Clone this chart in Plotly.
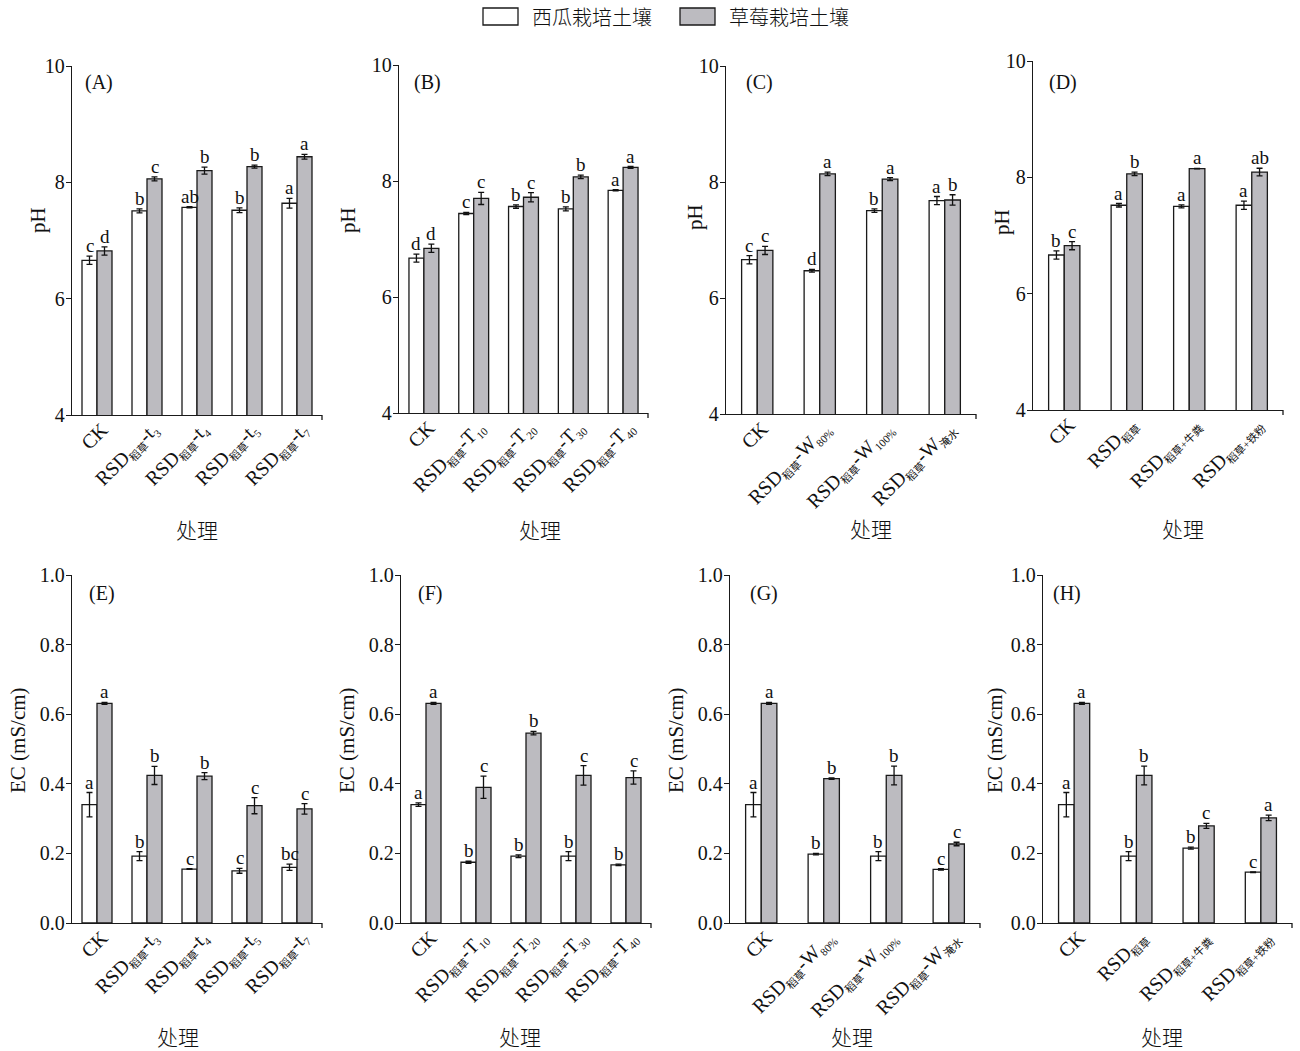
import plotly.graph_objects as go

W, H = 1300, 1051
SERIF = "Liberation Serif, Noto Sans CJK SC, serif"
CJK = "Noto Sans CJK SC, sans-serif"

series_names = ["西瓜栽培土壤", "草莓栽培土壤"]
fill_colors = ["#ffffff", "#bcbbc0"]


def sub(t):
    return f"<sub><span style='font-size:11px'>{t}</span></sub>"


# ---------------- categories / tick labels ----------------
cats_time = ["CK", "RSD稻草-t3", "RSD稻草-t4", "RSD稻草-t5", "RSD稻草-t7"]
ticks_time = ["CK", "RSD" + sub("稻草") + "-t" + sub("3"), "RSD" + sub("稻草") + "-t" + sub("4"),
              "RSD" + sub("稻草") + "-t" + sub("5"), "RSD" + sub("稻草") + "-t" + sub("7")]
cats_temp = ["CK", "RSD稻草-T10", "RSD稻草-T20", "RSD稻草-T30", "RSD稻草-T40"]
ticks_temp = ["CK", "RSD" + sub("稻草") + "-T" + sub("10"), "RSD" + sub("稻草") + "-T" + sub("20"),
              "RSD" + sub("稻草") + "-T" + sub("30"), "RSD" + sub("稻草") + "-T" + sub("40")]
cats_water = ["CK", "RSD稻草-W80%", "RSD稻草-W100%", "RSD稻草-W淹水"]
ticks_water = ["CK", "RSD" + sub("稻草") + "-W" + sub("80%"), "RSD" + sub("稻草") + "-W" + sub("100%"),
               "RSD" + sub("稻草") + "-W" + sub("淹水")]
cats_amend = ["CK", "RSD稻草", "RSD稻草+牛粪", "RSD稻草+铁粉"]
ticks_amend = ["CK", "RSD" + sub("稻草"), "RSD" + sub("稻草+牛粪"), "RSD" + sub("稻草+铁粉")]

# ---------------- pH data ----------------
ph_A_w = [6.66, 7.51, 7.57, 7.52, 7.64]
ph_A_w_err = [0.07, 0.035, 0.01, 0.04, 0.085]
ph_A_g = [6.82, 8.06, 8.20, 8.27, 8.44]
ph_A_g_err = [0.07, 0.035, 0.06, 0.025, 0.04]
ph_A_w_sig = ["c", "b", "ab", "b", "a"]
ph_A_g_sig = ["d", "c", "b", "b", "a"]

ph_B_w = [6.67, 7.44, 7.56, 7.52, 7.84]
ph_B_w_err = [0.07, 0.02, 0.03, 0.035, 0.01]
ph_B_g = [6.84, 7.70, 7.72, 8.07, 8.235]
ph_B_g_err = [0.07, 0.105, 0.08, 0.03, 0.015]
ph_B_w_sig = ["d", "c", "b", "b", "a"]
ph_B_g_sig = ["d", "c", "c", "b", "a"]

ph_C_w = [6.66, 6.47, 7.505, 7.68]
ph_C_w_err = [0.07, 0.025, 0.03, 0.07]
ph_C_g = [6.82, 8.14, 8.05, 7.69]
ph_C_g_err = [0.07, 0.03, 0.025, 0.09]
ph_C_w_sig = ["c", "d", "b", "a"]
ph_C_g_sig = ["c", "a", "a", "b"]

ph_D_w = [6.665, 7.52, 7.50, 7.52]
ph_D_w_err = [0.07, 0.03, 0.025, 0.07]
ph_D_g = [6.825, 8.06, 8.15, 8.09]
ph_D_g_err = [0.07, 0.03, 0.005, 0.066]
ph_D_w_sig = ["b", "a", "a", "a"]
ph_D_g_sig = ["c", "b", "a", "ab"]

# ---------------- EC data ----------------
ec_E_w = [0.340, 0.192, 0.155, 0.150, 0.160]
ec_E_w_err = [0.035, 0.013, 0.001, 0.007, 0.009]
ec_E_g = [0.631, 0.424, 0.422, 0.337, 0.328]
ec_E_g_err = [0.003, 0.026, 0.010, 0.023, 0.015]
ec_E_w_sig = ["a", "b", "c", "c", "bc"]
ec_E_g_sig = ["a", "b", "b", "c", "c"]

ec_F_w = [0.340, 0.1745, 0.192, 0.192, 0.167]
ec_F_w_err = [0.005, 0.003, 0.004, 0.013, 0.002]
ec_F_g = [0.631, 0.390, 0.5455, 0.424, 0.418]
ec_F_g_err = [0.003, 0.032, 0.005, 0.028, 0.019]
ec_F_w_sig = ["a", "b", "b", "b", "b"]
ec_F_g_sig = ["a", "c", "b", "c", "c"]

ec_G_w = [0.340, 0.198, 0.192, 0.154]
ec_G_w_err = [0.035, 0.002, 0.013, 0.002]
ec_G_g = [0.631, 0.415, 0.424, 0.227]
ec_G_g_err = [0.003, 0.002, 0.027, 0.005]
ec_G_w_sig = ["a", "b", "b", "c"]
ec_G_g_sig = ["a", "b", "b", "c"]

ec_H_w = [0.340, 0.192, 0.215, 0.146]
ec_H_w_err = [0.035, 0.013, 0.003, 0.001]
ec_H_g = [0.631, 0.424, 0.279, 0.302]
ec_H_g_err = [0.003, 0.027, 0.007, 0.008]
ec_H_w_sig = ["a", "b", "b", "c"]
ec_H_g_sig = ["a", "b", "c", "a"]

ph_ticks = [4, 6, 8, 10]
ec_ticks = [0.0, 0.2, 0.4, 0.6, 0.8, 1.0]

panels = [
    dict(tag="(A)", cats=cats_time, ticks=ticks_time, w=ph_A_w, we=ph_A_w_err, g=ph_A_g, ge=ph_A_g_err,
         ws=ph_A_w_sig, gs=ph_A_g_sig, kind="pH"),
    dict(tag="(B)", cats=cats_temp, ticks=ticks_temp, w=ph_B_w, we=ph_B_w_err, g=ph_B_g, ge=ph_B_g_err,
         ws=ph_B_w_sig, gs=ph_B_g_sig, kind="pH"),
    dict(tag="(C)", cats=cats_water, ticks=ticks_water, w=ph_C_w, we=ph_C_w_err, g=ph_C_g, ge=ph_C_g_err,
         ws=ph_C_w_sig, gs=ph_C_g_sig, kind="pH"),
    dict(tag="(D)", cats=cats_amend, ticks=ticks_amend, w=ph_D_w, we=ph_D_w_err, g=ph_D_g, ge=ph_D_g_err,
         ws=ph_D_w_sig, gs=ph_D_g_sig, kind="pH"),
    dict(tag="(E)", cats=cats_time, ticks=ticks_time, w=ec_E_w, we=ec_E_w_err, g=ec_E_g, ge=ec_E_g_err,
         ws=ec_E_w_sig, gs=ec_E_g_sig, kind="EC"),
    dict(tag="(F)", cats=cats_temp, ticks=ticks_temp, w=ec_F_w, we=ec_F_w_err, g=ec_F_g, ge=ec_F_g_err,
         ws=ec_F_w_sig, gs=ec_F_g_sig, kind="EC"),
    dict(tag="(G)", cats=cats_water, ticks=ticks_water, w=ec_G_w, we=ec_G_w_err, g=ec_G_g, ge=ec_G_g_err,
         ws=ec_G_w_sig, gs=ec_G_g_sig, kind="EC"),
    dict(tag="(H)", cats=cats_amend, ticks=ticks_amend, w=ec_H_w, we=ec_H_w_err, g=ec_H_g, ge=ec_H_g_err,
         ws=ec_H_w_sig, gs=ec_H_g_sig, kind="EC"),
]

# layout (pixel positions): plot box x0, x1, y_top, y_bottom, tag pos, y-title pos, x-title pos
boxes = [
    (72, 322, 66, 415), (399, 648, 65, 413), (726, 976, 66, 414), (1033, 1283, 61, 410),
    (72, 322, 575, 923), (401, 651, 575, 923), (730, 980, 575, 923), (1043, 1292, 575, 923),
]
tag_pos = [(83, 83), (412, 83), (744, 83), (1047, 83), (87, 593), (416, 593), (748, 593), (1051, 593)]
ytitle_pos = [(38, 220), (348, 220), (695, 217), (1002, 222), (18, 740), (347, 740), (676, 740), (995, 740)]
xtitle_pos = [(197, 529), (540, 529), (871, 528), (1183, 528), (178, 1036), (520, 1036), (852, 1036), (1162, 1036)]


def fx(p):
    return p / W


def fy(p):
    return 1 - p / H


fig = go.Figure()
layout = dict(
    width=W, height=H, margin=dict(l=0, r=0, t=0, b=0, autoexpand=False),
    paper_bgcolor="white", plot_bgcolor="white",
    barmode="overlay", showlegend=False,
    font=dict(family=SERIF, size=20, color="#111"),
)
annotations = []
shapes = []

for k, p in enumerate(panels):
    n = k + 1
    xa = "x" if n == 1 else f"x{n}"
    ya = "y" if n == 1 else f"y{n}"
    ncat = len(p["cats"])
    bw = 0.3 if ncat == 5 else 0.25
    for s, (vals, errs) in enumerate([(p["w"], p["we"]), (p["g"], p["ge"])]):
        fig.add_trace(go.Bar(
            x=p["cats"], y=vals, name=series_names[s],
            width=bw, offset=-bw if s == 0 else 0,
            marker=dict(color=fill_colors[s], line=dict(color="#1a1a1a", width=1.3)),
            error_y=dict(type="data", array=errs, visible=True, color="#111", thickness=1.3, width=3),
            xaxis=xa, yaxis=ya, showlegend=False,
        ))
        sig = p["ws"] if s == 0 else p["gs"]
        for i in range(ncat):
            annotations.append(dict(
                xref=xa, yref=ya, x=i - bw / 2 if s == 0 else i + bw / 2,
                y=vals[i] + errs[i], text=sig[i], showarrow=False,
                yanchor="bottom", xanchor="center", yshift=-2,
                font=dict(family=SERIF, size=19, color="#111"),
            ))
    x0, x1, yt, yb = boxes[k]
    axkey = "xaxis" if n == 1 else f"xaxis{n}"
    aykey = "yaxis" if n == 1 else f"yaxis{n}"
    layout[axkey] = dict(
        domain=[fx(x0), fx(x1)], anchor=ya, type="category", automargin=False,
        range=[-0.5, ncat - 0.5], tickvals=p["cats"], ticktext=p["ticks"],
        tickangle=-45, showline=True, linecolor="#1a1a1a", linewidth=1.3,
        ticks="", showgrid=False, zeroline=False,
        ticklabelstandoff=-6, ticklabelshift=5,
        tickfont=dict(family=SERIF, size=20, color="#111"),
    )
    if p["kind"] == "pH":
        yr = [4, 10]
        tv = ph_ticks
        tt = [f"{v:g}" for v in ph_ticks]
        ytitle = "pH"
    else:
        yr = [0, 1]
        tv = ec_ticks
        tt = [f"{v:.1f}" for v in ec_ticks]
        ytitle = "EC (mS/cm)"
    layout[aykey] = dict(
        domain=[fy(yb), fy(yt)], anchor=xa, range=yr, tickvals=tv, ticktext=tt, automargin=False,
        showline=True, linecolor="#1a1a1a", linewidth=1.3, ticks="outside",
        ticklen=5, tickwidth=1.3, tickcolor="#1a1a1a", showgrid=False, zeroline=False,
        ticklabelstandoff=-3,
        tickfont=dict(family=SERIF, size=20, color="#111"),
    )
    # small end tick at right end of x axis
    shapes.append(dict(type="line", xref=f"{xa} domain", yref=f"{ya} domain",
                       x0=1, x1=1, ysizemode="pixel", yanchor=0, y0=0, y1=-5,
                       line=dict(color="#1a1a1a", width=1.3)))
    tx, ty = tag_pos[k]
    annotations.append(dict(xref="paper", yref="paper", x=fx(tx), y=fy(ty), text=p["tag"],
                            showarrow=False, xanchor="left", yanchor="middle",
                            font=dict(family=SERIF, size=20, color="#111")))
    ax_, ay_ = ytitle_pos[k]
    annotations.append(dict(xref="paper", yref="paper", x=fx(ax_), y=fy(ay_), text=ytitle,
                            showarrow=False, textangle=-90, xanchor="center", yanchor="middle",
                            font=dict(family=SERIF, size=21, color="#111")))
    bx, by = xtitle_pos[k]
    annotations.append(dict(xref="paper", yref="paper", x=fx(bx), y=fy(by), text="处理",
                            showarrow=False, xanchor="center", yanchor="middle",
                            font=dict(family=CJK, size=21, color="#111", weight=300)))

# legend (drawn at top centre)
legend_items = [(483, 518, 530), (680, 715, 727)]
for s, (lx0, lx1, tx0) in enumerate(legend_items):
    shapes.append(dict(type="rect", xref="paper", yref="paper",
                       x0=fx(lx0), x1=fx(lx1), y0=fy(25), y1=fy(8),
                       fillcolor=fill_colors[s], line=dict(color="#1a1a1a", width=1.3)))
    annotations.append(dict(xref="paper", yref="paper", x=fx(tx0), y=fy(16.5),
                            text=series_names[s], showarrow=False, xanchor="left", yanchor="middle",
                            font=dict(family=CJK, size=20, color="#111", weight=300)))

layout["annotations"] = annotations
layout["shapes"] = shapes
fig.update_layout(**layout)

fig.write_html("out.html", config={"displayModeBar": False},
               post_script="document.body.style.margin='0';")
